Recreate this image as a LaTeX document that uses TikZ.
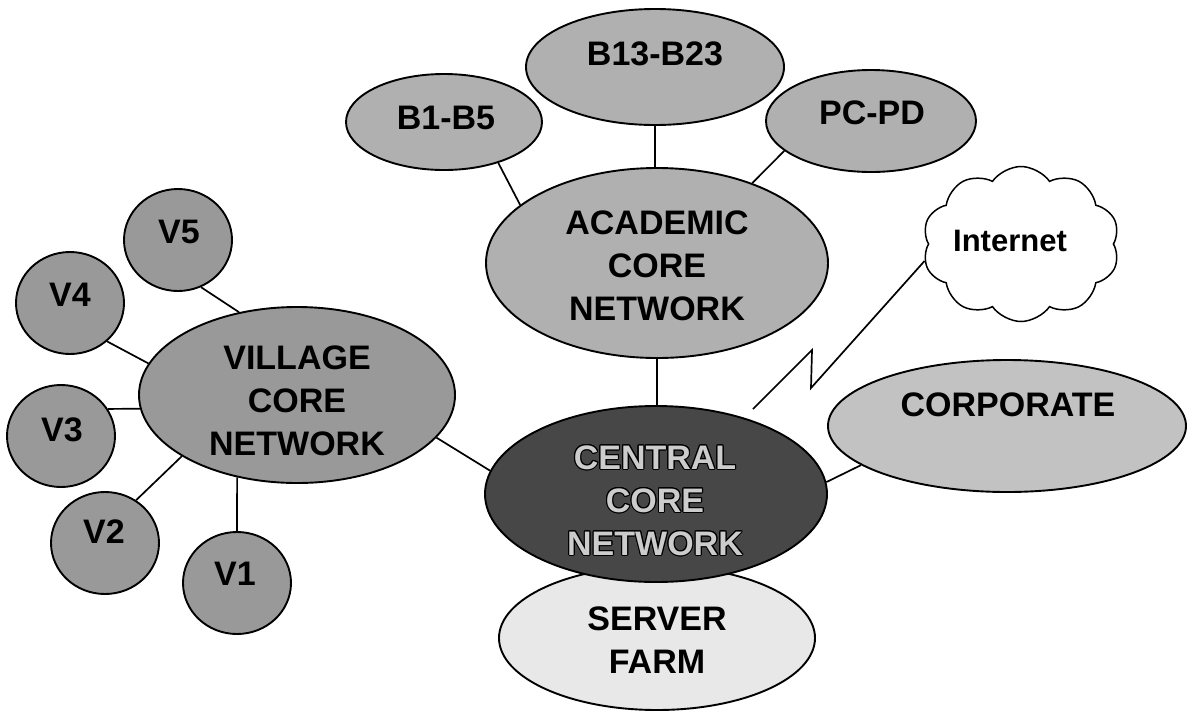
\documentclass[tikz,border=0pt]{standalone}
\usepackage{fontspec}
\setmainfont{Liberation Sans}
\usepackage{contour}
\contourlength{1.1pt}
\usetikzlibrary{shapes.geometric,shapes.symbols}

\definecolor{acadfill}{gray}{0.69}
\definecolor{villfill}{gray}{0.60}
\definecolor{centfill}{gray}{0.28}
\definecolor{corpfill}{gray}{0.76}
\definecolor{servfill}{gray}{0.91}
\definecolor{centtext}{gray}{0.80}

\begin{document}
\begin{tikzpicture}[x=1pt,y=-1pt,
  blob/.style={ellipse, draw=black, line width=1.9pt, inner sep=0pt},
  village node/.style={blob, fill=villfill, minimum width=108, minimum height=102},
  txt/.style={font=\fontsize{34}{43}\selectfont\bfseries, align=center, inner sep=0pt},
  link/.style={line width=1.7pt},
]
\useasboundingbox (0,0) rectangle (1187,713);

% academic cluster
\node[blob, fill=acadfill, minimum width=258, minimum height=116] (b13) at (655,67) {};
\node[blob, fill=acadfill, minimum width=196, minimum height=96] (b1) at (444,122) {};
\node[blob, fill=acadfill, minimum width=210, minimum height=102] (pcpd) at (871,121) {};
\node[blob, fill=acadfill, minimum width=342, minimum height=190] (academic) at (657,263) {};

% external links
\node[cloud, draw, fill=white, line width=1.5pt, cloud puffs=10, cloud puff arc=110, aspect=1.27,
      minimum width=197, minimum height=155, inner sep=0pt] (internet) at (1021,244) {};
\node[blob, fill=corpfill, minimum width=358, minimum height=132] (corporate) at (1007,426) {};

% core
\node[blob, fill=servfill, minimum width=316, minimum height=144] (server) at (657,638) {};
\node[blob, fill=centfill, minimum width=342, minimum height=176] (central) at (656,494) {};

% village cluster
\node[blob, fill=villfill, minimum width=316, minimum height=176] (village) at (297,395) {};
\node[village node] (v5) at (178,240) {};
\node[village node] (v4) at (70,303) {};
\node[village node] (v3) at (61,436) {};
\node[village node] (v2) at (105,543) {};
\node[village node] (v1) at (237,583) {};

% labels
\node[txt] (b13-t) at (655,54) {B13-B23};
\node[txt] (b1-t) at (446,118) {B1-B5};
\node[txt] (pcpd-t) at (872,113) {PC-PD};
\node[txt] (academic-t) at (657,266) {ACADEMIC\\CORE\\NETWORK};
\node[txt, font=\fontsize{31}{37}\selectfont\bfseries] (internet-t) at (1010,241) {Internet};
\node[txt] (corporate-t) at (1008,405) {CORPORATE};
\node[txt] (server-t) at (657,640) {SERVER\\FARM};
\node[txt] (central-t) at (655,501)
  {\contour{black}{\textcolor{centtext}{CENTRAL}}\\
   \contour{black}{\textcolor{centtext}{CORE}}\\
   \contour{black}{\textcolor{centtext}{NETWORK}}};
\node[txt] (village-t) at (297,401) {VILLAGE\\CORE\\NETWORK};
\node[txt] (v5-t) at (179,232) {V5};
\node[txt] (v4-t) at (70,295) {V4};
\node[txt] (v3-t) at (62,430) {V3};
\node[txt] (v2-t) at (104,532) {V2};
\node[txt] (v1-t) at (235,574) {V1};

% connectors
\draw[link] (v5.-64) -- (village.125);
\draw[link] (v4.-46) -- (village.168);
\draw[link] (v3.30) -- (village.185);
\draw[link] (v2.54) -- (village.208);
\draw[link] (v1.north) -- (village.234);
\draw[link] (village.-17) -- (central.172);
\draw[link] (b1.-37) -- (academic.157);
\draw[link] (b13.south) -- (b13.south |- academic.north);
\draw[link] (pcpd.199) -- (academic.40);
\draw[link] (academic.south) -- (academic.south |- central.north);
\draw[link] (central.4) -- (corporate.195);

% wide-area link to the internet
\coordinate (bolt0) at (753,409);
\coordinate (bolt1) at (812,350);
\coordinate (bolt2) at (811,388);
\draw[link] (bolt0) -- (bolt1) -- (bolt2) -- (internet.190);
\end{tikzpicture}
\end{document}
